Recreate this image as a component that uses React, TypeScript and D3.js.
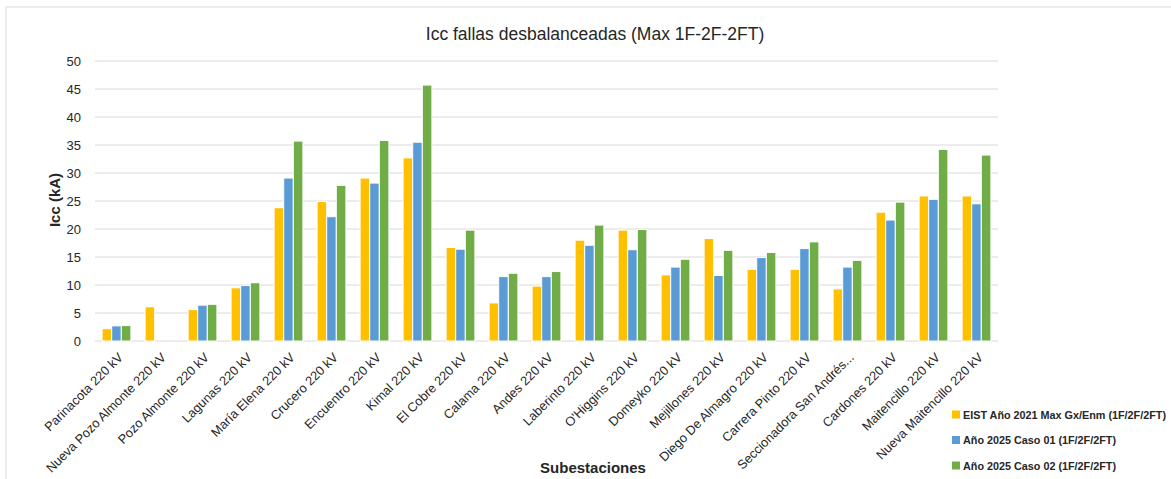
import React from "react";
import * as d3 from "d3";

const categories = [
  "Parinacota 220 kV",
  "Nueva Pozo Almonte 220 kV",
  "Pozo Almonte 220 kV",
  "Lagunas 220 kV",
  "María Elena 220 kV",
  "Crucero 220 kV",
  "Encuentro 220 kV",
  "Kimal 220 kV",
  "El Cobre 220 kV",
  "Calama 220 kV",
  "Andes 220 kV",
  "Laberinto 220 kV",
  "O'Higgins 220 kV",
  "Domeyko 220 kV",
  "Mejillones 220 kV",
  "Diego De Almagro 220 kV",
  "Carrera Pinto 220 kV",
  "Seccionadora San Andrés...",
  "Cardones 220 kV",
  "Maitencillo 220 kV",
  "Nueva Maitencillo 220 kV",
];

const eist2021: (number | null)[] = [2.2, 6.1, 5.6, 9.5, 23.8, 24.9, 29.1, 32.7, 16.7, 6.8, 9.8, 18.0, 19.8, 11.8, 18.3, 12.8, 12.8, 9.3, 23.0, 25.9, 25.9];
const caso01: (number | null)[] = [2.7, null, 6.4, 9.9, 29.1, 22.2, 28.2, 35.5, 16.4, 11.5, 11.5, 17.1, 16.3, 13.2, 11.7, 14.9, 16.5, 13.2, 21.6, 25.3, 24.5];
const caso02: (number | null)[] = [2.75, null, 6.55, 10.4, 35.7, 27.8, 35.8, 45.7, 19.8, 12.1, 12.4, 20.7, 19.9, 14.6, 16.2, 15.8, 17.7, 14.4, 24.8, 34.2, 33.2];

const seriesNames = [
  "EIST Año 2021 Max Gx/Enm (1F/2F/2FT)",
  "Año 2025 Caso 01 (1F/2F/2FT)",
  "Año 2025 Caso 02 (1F/2F/2FT)",
];
const seriesColors = ["#FFC000", "#5B9BD5", "#70AD47"];
const yTicks = [0, 5, 10, 15, 20, 25, 30, 35, 40, 45, 50];

const W = 1171;
const H = 479;
const plot = { left: 95, right: 998, top: 61, bottom: 341 };
const FONT = "'Liberation Sans', Arial, sans-serif";

export default function App() {
  const allSeries = [eist2021, caso01, caso02];
  const x = d3
    .scaleBand<string>()
    .domain(categories)
    .range([plot.left, plot.right])
    .paddingInner(0.33)
    .paddingOuter(0.165);
  const xs = d3
    .scaleBand<number>()
    .domain([0, 1, 2])
    .range([0, x.bandwidth()])
    .paddingInner(0.0);
  const y = d3.scaleLinear().domain([0, 50]).range([plot.bottom, plot.top]);

  return (
    <svg
      width={W}
      height={H}
      style={{ position: "absolute", left: 0, top: 0, background: "#fff" }}
      fontFamily={FONT}
    >
      <rect x={0} y={0} width={W} height={H} fill="#fff" />
      <path d={`M6,${H} V7 H${W}`} fill="none" stroke="#D9D9D9" strokeWidth={1} />
      <text x={595} y={40} textAnchor="middle" fontSize={17.5} fill="#262626">
        Icc fallas desbalanceadas (Max 1F-2F-2FT)
      </text>
      {yTicks.map((t) => (
        <g key={t}>
          <line x1={plot.left} x2={plot.right} y1={y(t)} y2={y(t)} stroke="#D9D9D9" strokeWidth={1} />
          <text x={81} y={y(t)} dy="0.35em" textAnchor="end" fontSize={13} fill="#262626">
            {t}
          </text>
        </g>
      ))}
      <text
        transform={`translate(55,200) rotate(-90)`}
        textAnchor="middle"
        dy="0.35em"
        fontSize={15}
        fontWeight="bold"
        fill="#262626"
      >
        Icc (kA)
      </text>
      {allSeries.map((s, si) =>
        s.map((v, i) =>
          v == null ? null : (
            <rect
              key={`${si}-${i}`}
              x={(x(categories[i]) as number) + (xs(si) as number)}
              y={y(v)}
              width={xs.bandwidth()}
              height={y(0) - y(v)}
              fill={seriesColors[si]}
              stroke="#fff"
              strokeWidth={1}
            />
          )
        )
      )}
      {categories.map((c) => {
        const cx = (x(c) as number) + x.bandwidth() / 2;
        return (
          <text
            key={c}
            transform={`translate(${cx + 4},${plot.bottom + 14}) rotate(-45)`}
            textAnchor="end"
            dy="0.35em"
            fontSize={12.8}
            fill="#262626"
          >
            {c}
          </text>
        );
      })}
      <text x={593} y={473} textAnchor="middle" fontSize={15} fontWeight="bold" fill="#262626">
        Subestaciones
      </text>
      {seriesNames.map((n, i) => (
        <g key={n} transform={`translate(952,${415 + i * 25.5})`}>
          <rect x={0} y={-4.5} width={8} height={8} fill={seriesColors[i]} />
          <text x={11} y={0} dy="0.35em" fontSize={10.8} fontWeight="bold" fill="#262626">
            {n}
          </text>
        </g>
      ))}
    </svg>
  );
}
